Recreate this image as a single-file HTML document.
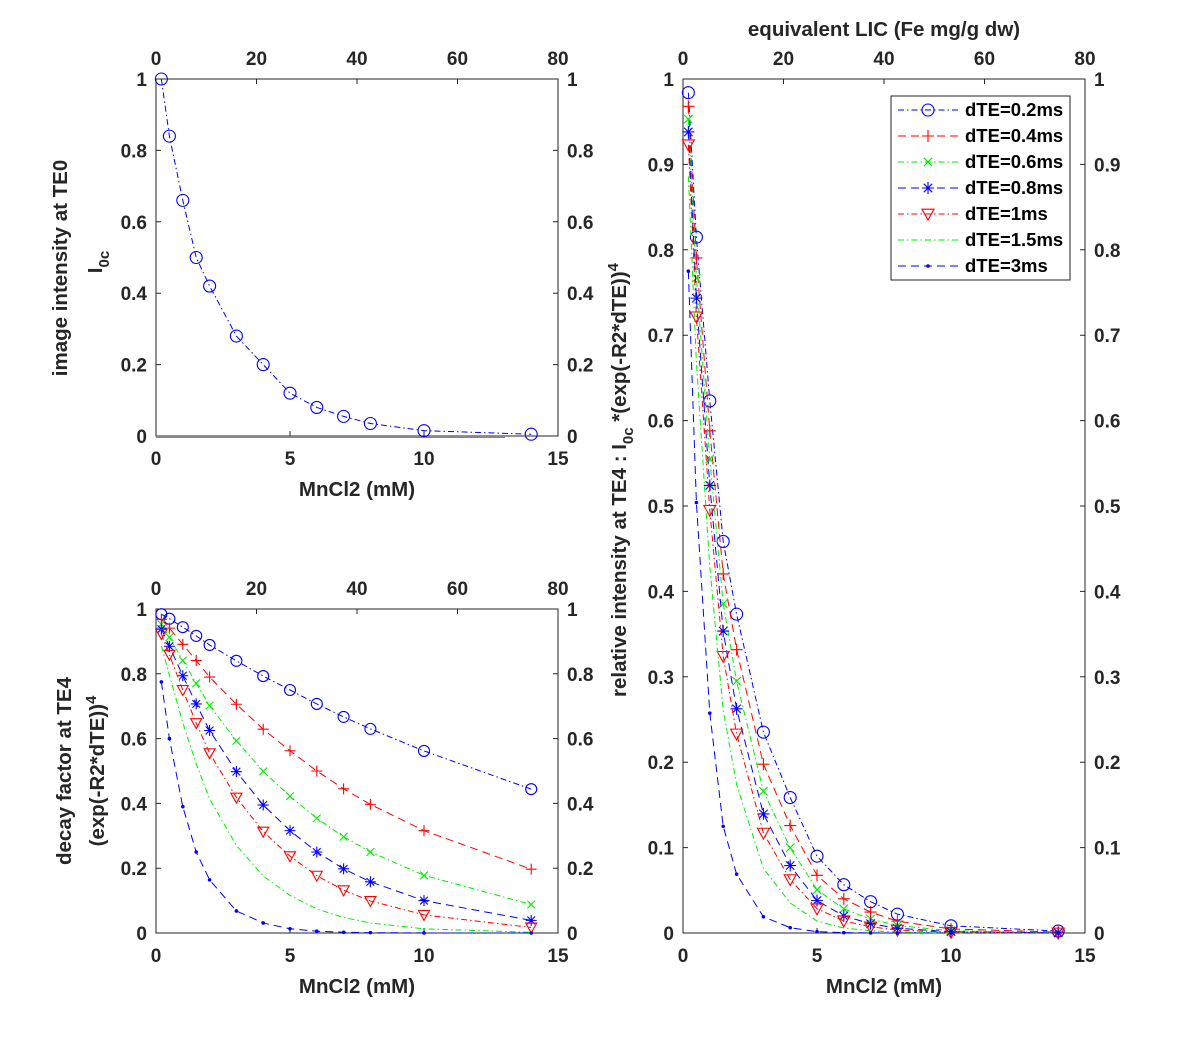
<!DOCTYPE html>
<html><head><meta charset="utf-8"><style>
html,body{margin:0;padding:0;background:#fff}
svg{display:block;font-family:"Liberation Sans",Arial,sans-serif;font-weight:bold}
</style></head><body>
<svg id="fig" width="1200" height="1049" viewBox="0 0 1200 1049" xmlns="http://www.w3.org/2000/svg">
<g id="root"></g>
</svg>
<script>
const mnCl2 = [0.2,0.5,1,1.5,2,3,4,5,6,7,8,10,14];
const i0c = [1,0.84,0.66,0.5,0.42,0.28,0.2,0.12,0.08,0.055,0.035,0.015,0.005];
const dteLabels = ['dTE=0.2ms','dTE=0.4ms','dTE=0.6ms','dTE=0.8ms','dTE=1ms','dTE=1.5ms','dTE=3ms'];
const decay02 = [0.984,0.97,0.944,0.917,0.889,0.84,0.793,0.75,0.707,0.667,0.63,0.562,0.444];
const decay04 = [0.968,0.941,0.891,0.841,0.79,0.706,0.629,0.5625,0.5,0.445,0.397,0.316,0.197];
const decay06 = [0.953,0.913,0.841,0.771,0.702,0.593,0.499,0.422,0.354,0.297,0.25,0.178,0.088];
const decay08 = [0.938,0.885,0.794,0.707,0.625,0.498,0.395,0.316,0.25,0.198,0.158,0.1,0.039];
const decay10 = [0.923,0.859,0.75,0.648,0.555,0.418,0.313,0.237,0.177,0.132,0.099,0.056,0.017];
const decay15 = [0.886,0.796,0.649,0.522,0.414,0.27,0.176,0.116,0.074,0.048,0.031,0.013,0.002];
const decay30 = [0.775,0.6,0.39,0.25,0.164,0.068,0.031,0.013,0.0055,0.0023,0.001,0.0002,0];
const xTicks = [0,5,10,15];
const licTicks = [0,20,40,60,80];
const yTicksA = [0,0.2,0.4,0.6,0.8,1];
const yTicksC = [0,0.1,0.2,0.3,0.4,0.5,0.6,0.7,0.8,0.9,1];

const NS='http://www.w3.org/2000/svg';
const root=document.getElementById('root');
function mk(tag,attrs,parent){const e=document.createElementNS(NS,tag);for(const k in attrs)e.setAttribute(k,attrs[k]);(parent||root).appendChild(e);return e;}

const decays=[decay02,decay04,decay06,decay08,decay10,decay15,decay30];
const styles=[
 {c:'#0000ff',d:'6,3,1.5,3',m:'circle'},
 {c:'#ff0000',d:'8,5',m:'plus'},
 {c:'#00ee00',d:'6,3,1.5,3',m:'x'},
 {c:'#0000ff',d:'8,5',m:'star'},
 {c:'#ff0000',d:'6,3,1.5,3',m:'tri'},
 {c:'#00ee00',d:'6,3,1.5,3',m:'none'},
 {c:'#0000ff',d:'8,5',m:'dot'}];

function marker(g,type,x,y,c,r){
  r=r||6;
  if(type==='circle')mk('circle',{cx:x,cy:y,r:r,fill:'none',stroke:c,'stroke-width':1.1},g);
  else if(type==='plus')mk('path',{d:`M${x-r} ${y}H${x+r}M${x} ${y-r}V${y+r}`,stroke:c,'stroke-width':1.1,fill:'none'},g);
  else if(type==='x'){const s=r*0.7;mk('path',{d:`M${x-s} ${y-s}L${x+s} ${y+s}M${x-s} ${y+s}L${x+s} ${y-s}`,stroke:c,'stroke-width':1.1,fill:'none'},g);}
  else if(type==='star'){const s=r*0.7;mk('path',{d:`M${x-r} ${y}H${x+r}M${x} ${y-r}V${y+r}M${x-s} ${y-s}L${x+s} ${y+s}M${x-s} ${y+s}L${x+s} ${y-s}`,stroke:c,'stroke-width':1.1,fill:'none'},g);}
  else if(type==='tri')mk('path',{d:`M${x-r} ${y-r*0.8}H${x+r}L${x} ${y+r}Z`,stroke:c,'stroke-width':1.1,fill:'none'},g);
  else if(type==='dot')mk('circle',{cx:x,cy:y,r:1.8,fill:c},g);
}

function axes(name,L,R,T,B,ymax,yticks,ydec){
  const g=mk('g',{});
  
  
  const sx=v=>L+(v/15)*(R-L), sy=v=>B-(v/ymax)*(B-T), sl=v=>L+(v/80)*(R-L);
  mk('rect',{x:L,y:T,width:R-L,height:B-T,fill:'none',stroke:'#262626','stroke-width':1},g);
  xTicks.forEach(t=>{const x=sx(t);
    mk('path',{d:`M${x} ${B}V${B-5}`,stroke:'#262626'},g);
    const tx=mk('text',{x:x,y:B+29,'text-anchor':'middle','font-size':19,fill:'#262626'},g);tx.textContent=t;
    });
  licTicks.forEach(t=>{const x=sl(t);
    mk('path',{d:`M${x} ${T}V${T+5}`,stroke:'#262626'},g);
    const tx=mk('text',{x:x,y:T-14,'text-anchor':'middle','font-size':19,fill:'#262626'},g);tx.textContent=t;
    });
  yticks.forEach(t=>{const y=sy(t);
    mk('path',{d:`M${L} ${y}H${L+5}M${R} ${y}H${R-5}`,stroke:'#262626'},g);
    const lab=t===0?'0':(t===1?'1':t.toFixed(ydec));
    const a=mk('text',{x:L-9,y:y+7,'text-anchor':'end','font-size':19,fill:'#262626'},g);a.textContent=lab;
    
    const b=mk('text',{x:R+9,y:y+7,'text-anchor':'start','font-size':19,fill:'#262626'},g);b.textContent=lab;
    });
  const xl=mk('text',{x:(L+R)/2,y:B+60,'text-anchor':'middle','font-size':20.5,fill:'#262626'},g);xl.textContent='MnCl2 (mM)';
  
  return {g,sx,sy};
}
function series(g,sx,sy,ys,st,name,ms){
  const s=mk('g',{},g);
  
  
  const pts=mnCl2.map((x,i)=>sx(x)+','+sy(ys[i])).join(' ');
  mk('polyline',{points:pts,fill:'none',stroke:st.c,'stroke-width':1,'stroke-dasharray':st.d},s);
  mnCl2.forEach((x,i)=>marker(s,st.m,sx(x),sy(ys[i]),st.c,ms));
}

// Panel A
const A=axes('panel-i0c',156,558,79,436,1,yTicksA,1);
mk('path',{d:`M156 437H505`,stroke:'#888','stroke-width':2},A.g);
series(A.g,A.sx,A.sy,i0c,styles[0],'series-i0c',6);
let t=mk('text',{transform:'translate(67,268) rotate(-90)','text-anchor':'middle','font-size':20.5,fill:'#262626'});t.textContent='image intensity at TE0';

t=mk('text',{transform:'translate(102,262) rotate(-90)','text-anchor':'middle','font-size':20.5,fill:'#262626'});
t.innerHTML='I<tspan font-size="15" dy="7">0c</tspan>';


// Panel B
const Bp=axes('panel-decay',156,558,609,933,1,yTicksA,1);
decays.forEach((d,k)=>series(Bp.g,Bp.sx,Bp.sy,d,styles[k],'decay-'+dteLabels[k],5.5));
t=mk('text',{transform:'translate(71,771) rotate(-90)','text-anchor':'middle','font-size':20.5,fill:'#262626'});t.textContent='decay factor at TE4';

t=mk('text',{transform:'translate(104,771) rotate(-90)','text-anchor':'middle','font-size':20.5,fill:'#262626'});
t.innerHTML='(exp(-R2*dTE))<tspan font-size="15" dy="-8">4</tspan>';


// Panel C
const C=axes('panel-relative',683,1085,79,933,1,yTicksC,1);
decays.forEach((d,k)=>series(C.g,C.sx,C.sy,d.map((v,i)=>v*i0c[i]),styles[k],'relative-'+dteLabels[k],6));
t=mk('text',{transform:'translate(626,480) rotate(-90)','text-anchor':'middle','font-size':20.5,fill:'#262626','xml:space':'preserve'});
t.innerHTML='relative intensity at TE4 :   I<tspan font-size="15" dy="7">0c</tspan><tspan dy="-7"> *(exp(-R2*dTE))</tspan><tspan font-size="15" dy="-8">4</tspan>';

t=mk('text',{x:884,y:36,'text-anchor':'middle','font-size':20.5,fill:'#262626'});t.textContent='equivalent LIC (Fe mg/g dw)';


// Legend
const lg=mk('g',{});


mk('rect',{x:891,y:96,width:179,height:184,fill:'#fff',stroke:'#262626','stroke-width':1},lg);
dteLabels.forEach((lab,k)=>{
  const y=110+k*26;const st=styles[k];
  const e=mk('g',{},lg);
  
  
  mk('path',{d:`M898 ${y}H958`,stroke:st.c,'stroke-width':1,'stroke-dasharray':st.d},e);
  marker(e,st.m,928,y,st.c,6);
  const tx=mk('text',{x:965,y:y+6,'font-size':18.5,fill:'#000'},e);tx.textContent=lab;
});
</script>
</body></html>
